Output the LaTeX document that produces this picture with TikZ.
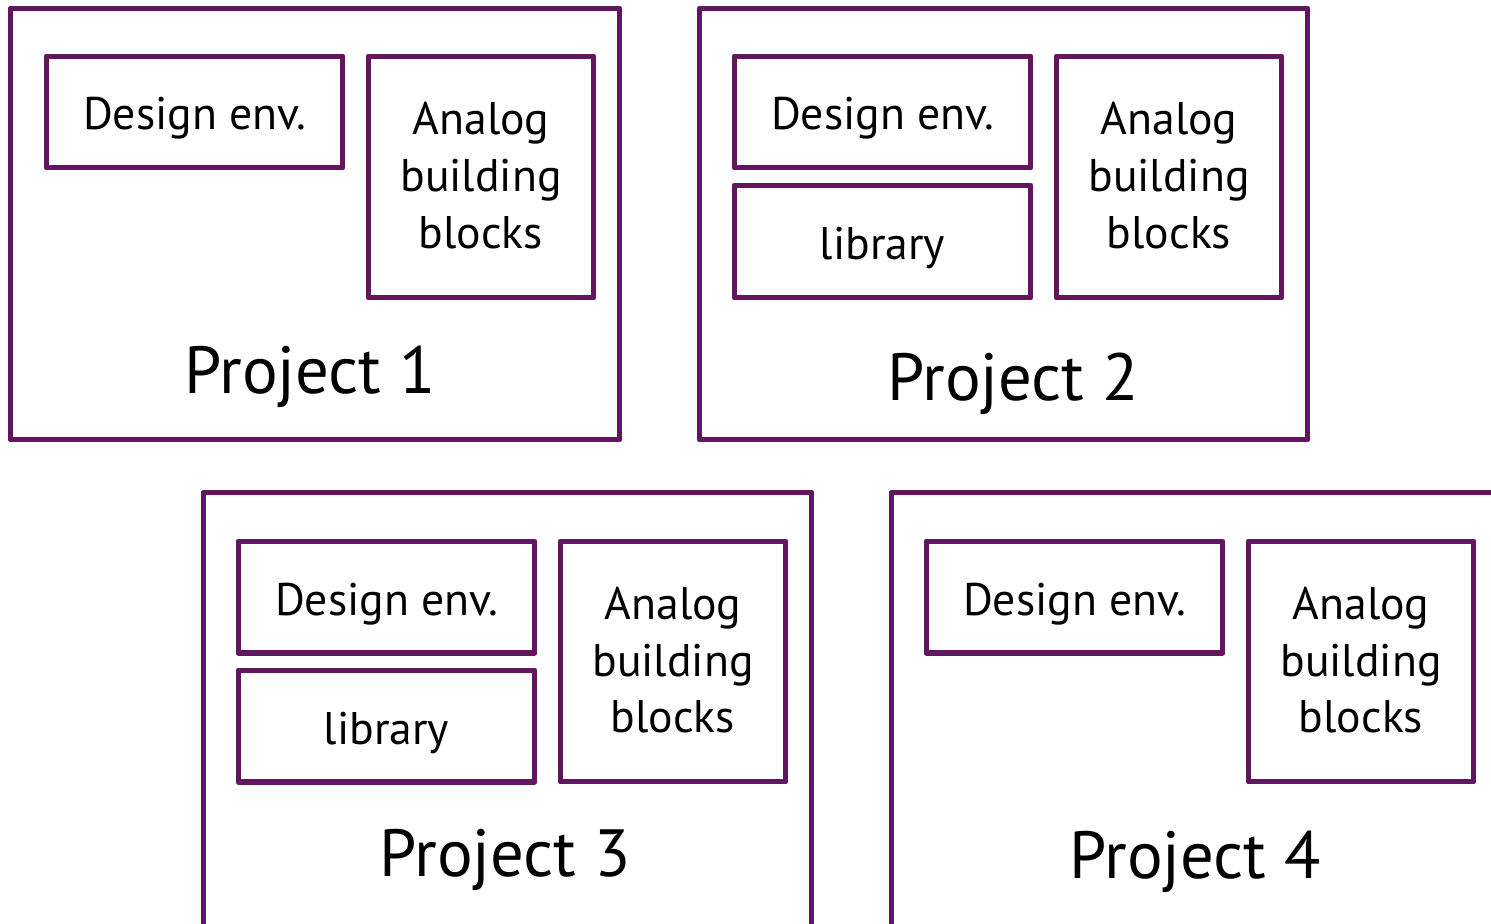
\documentclass[tikz,border=0pt]{standalone}
\usepackage{fontspec}
\setmainfont{PT Sans}
\usepackage{xcolor}
\definecolor{plum}{RGB}{98,22,95}

\begin{document}
\begin{tikzpicture}[
  x=0.02cm, y=-0.02cm,
  frame/.style={draw=plum,line width=2.85pt,line join=round,minimum width=12.2cm,minimum height=8.64cm,inner sep=0pt},
  wide/.style={draw=plum,line width=2.85pt,line join=round,align=center,minimum width=5.94cm,minimum height=2.24cm,inner sep=0pt,
    text height=0.72cm,text depth=0pt,font=\fontsize{26}{32.4}\selectfont},
  tall/.style={draw=plum,line width=2.85pt,line join=round,align=center,minimum width=4.52cm,minimum height=4.84cm,inner sep=0pt,
    text depth=0.07cm,font=\fontsize{26}{32.4}\selectfont},
  title/.style={anchor=base,inner sep=0pt,font=\fontsize{38}{46}\selectfont}
]
\path[use as bounding box,clip] (0,0) rectangle (1491,923);
% top row
\node[frame] (p1) at (315,224) {};
\node[wide] (p1design) at (194.5,112) {Design env.};
\node[tall] (p1analog) at (481,177) {Analog\\building\\blocks};
\node[title] (p1name) at (310,393) {Project 1};

\node[frame,minimum width=12.18cm] (p2) at (1003.5,224) {};
\node[wide] (p2design) at (882.5,112) {Design env.};
\node[wide,minimum height=2.26cm] (p2lib) at (882.5,241.5) {library};
\node[tall] (p2analog) at (1169,177) {Analog\\building\\blocks};
\node[title] (p2name) at (1013,400) {Project 2};

% bottom row, cut off at the page edge
\node[frame,minimum width=12.18cm,minimum height=8.96cm] (p3) at (507.5,716) {};
\node[wide] (p3design) at (386.5,597) {Design env.};
\node[wide] (p3lib) at (386.5,726) {library};
\node[tall,minimum height=4.82cm] (p3analog) at (673,661.5) {Analog\\building\\blocks};
\node[title] (p3name) at (505,876) {Project 3};

\node[frame,minimum width=12.18cm,minimum height=8.96cm] (p4) at (1195.5,716) {};
\node[wide] (p4design) at (1074.5,597) {Design env.};
\node[tall,minimum height=4.82cm] (p4analog) at (1361,661.5) {Analog\\building\\blocks};
\node[title] (p4name) at (1195,878) {Project 4};
\end{tikzpicture}
\end{document}
